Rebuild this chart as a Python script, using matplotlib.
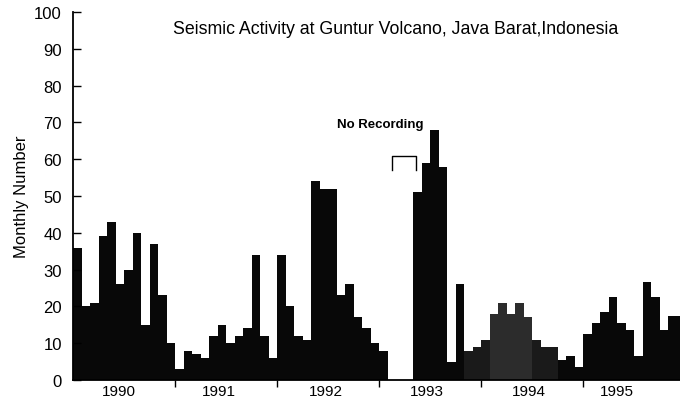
import matplotlib
matplotlib.use("Agg")

import matplotlib.pyplot as plt
import numpy as np

plt.rcParams["font.family"] = ["Liberation Sans", "DejaVu Sans"]

# monthly earthquake counts, Jan..Dec; nan = no recording
years = [1990, 1991, 1992, 1993, 1994, 1995]
counts_1990 = [36, 20, 21, 39, 43, 26, 30, 40, 15, 37, 23, 10]
counts_1991 = [3, 8, 7, 6, 12, 15, 10, 12, 14, 34, 12, 6]
counts_1992 = [34, 20, 12, 11, 54, 52, 52, 23, 26, 17, 14, 10]
counts_1993 = [8, np.nan, np.nan, np.nan, 51, 59, 68, 58, 5, 26, 8, 9]
counts_1994 = [11, 18, 21, 18, 21, 17, 11, 9, 9, 5.5, 6.5, 3.5]
counts_1995 = [12.5, 15.5, 18.5, 22.5, 15.5, 13.5, 6.5, 26.5, 22.5, 13.5, 17.5, 17.5]

title = "Seismic Activity at Guntur Volcano, Java Barat,Indonesia"
ylabel = "Monthly Number"
gap_label = "No Recording"

counts = np.concatenate([counts_1990, counts_1991, counts_1992,
                         counts_1993, counts_1994, counts_1995]).astype(float)
months = np.arange(len(counts))

fig = plt.figure(figsize=(6.8, 4.02), dpi=100)
ax = fig.add_axes([73 / 680, 21 / 402, 1 - 73 / 680, 368 / 402])

# the 1994 swarm prints a bit lighter than the rest
colors = ["#080808"] * len(counts)
for i in range(49, 54):
    colors[i] = "#2c2c2c"
for i in (46, 47, 48, 54, 55, 56):
    colors[i] = "#1a1a1a"

ax.bar(months, np.nan_to_num(counts), width=1.0, align="edge",
       color=colors, edgecolor="none")

ax.set_xlim(0, 71.4)
ax.set_ylim(0, 100)

for side in ("top", "right"):
    ax.spines[side].set_visible(False)
ax.spines["left"].set_linewidth(1.3)
ax.spines["bottom"].set_linewidth(1.3)

ax.set_yticks(np.arange(0, 101, 10))
ax.tick_params(axis="y", direction="in", length=6, width=1.0,
               labelsize=12, pad=8)

# year boundaries as ticks, year names placed between them
ax.set_xticks(np.arange(12, 12 * len(years), 12))
ax.set_xticklabels([])
ax.tick_params(axis="x", which="major", direction="out", length=5, width=1.0)
label_pos = [5.4, 17.2, 29.8, 41.6, 53.6, 64.0]
ax.set_xticks(label_pos, minor=True)
ax.set_xticklabels([str(y) for y in years], minor=True)
ax.tick_params(axis="x", which="minor", length=0, labelsize=11, pad=3)

ax.set_ylabel(ylabel, fontsize=12, labelpad=4)

fig.text(396 / 680, 1 - 30 / 402, title, ha="center", va="center", fontsize=12.8)

# bracket over the months without recording
gap = np.flatnonzero(np.isnan(counts))
x0, x1 = gap[0] + 0.5, gap[-1] + 1.3
ax.plot([x0, x0, x1, x1], [57, 61, 61, 57], color="black", lw=1.0)
ax.text(36.1, 69.5, gap_label, ha="center", va="center",
        fontsize=9.5, fontweight="bold")

fig.savefig("out.png", dpi=100)
